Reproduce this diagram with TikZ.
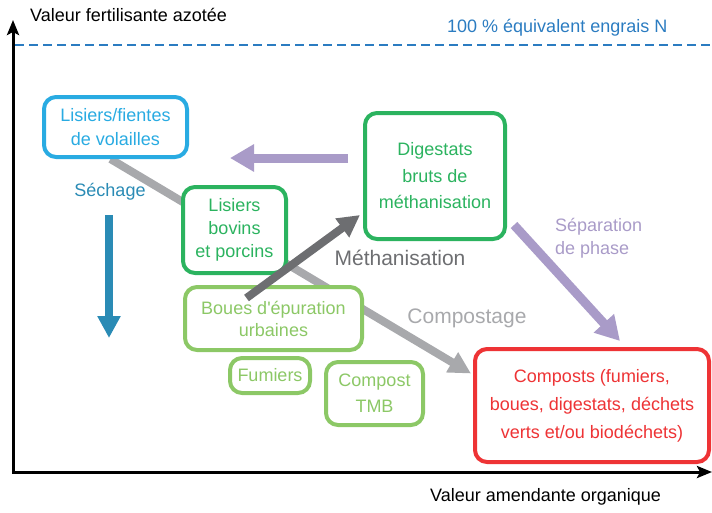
\documentclass[tikz,border=0pt]{standalone}
\usepackage{fontspec}
\setmainfont{Liberation Sans}
\usepackage{tikz}
\usetikzlibrary{arrows.meta,backgrounds}

\definecolor{cyanbox}{HTML}{29ABE2}
\definecolor{vertfonce}{HTML}{2BB35F}
\definecolor{vertclair}{HTML}{8CC866}
\definecolor{rougebox}{HTML}{EE3335}
\definecolor{mauve}{HTML}{A99BC8}
\definecolor{grisclair}{HTML}{A8A9AC}
\definecolor{grisfonce}{HTML}{6D6E71}
\definecolor{bleutiret}{HTML}{2B7CC1}
\definecolor{bleusechage}{HTML}{2A8BB5}

\begin{document}
\begin{tikzpicture}[
    x=1pt, y=-1pt,
    font=\fontsize{18}{23}\selectfont,
    box/.style     = {draw=#1, text=#1, line width=4pt, rounded corners=12pt,
                      fill=white, align=center, inner sep=2pt},
    lbl/.style     = {inner sep=0pt},
    etape/.style   = {lbl, font=\fontsize{21}{25}\selectfont},
    axe/.style     = {line width=3pt, line join=miter,
                      {Stealth[length=15pt,width=12pt,inset=3pt]}-{Stealth[length=15pt,width=12pt,inset=3pt]}},
    flux/.style    = {line width=9pt, -{Triangle[length=24pt,width=26pt]}},
    fluxfin/.style = {line width=8pt, -{Triangle[length=22pt,width=22pt]}},
]
\useasboundingbox (0,0) rectangle (712,512);

% ---------------- axes ----------------
\coordinate (origine) at (13,472);
\coordinate (ytop) at (13,20);
\coordinate (xend) at (712,472);
\draw[axe] (ytop) -- (origine) -- (xend);

\node[lbl, anchor=west] (yaxe) at (30,15) {Valeur fertilisante azotée};
\node[lbl, anchor=west] (xaxe) at (430,497) {Valeur amendante organique};

% 100 % line
\coordinate (tiretA) at (15,45);
\coordinate (tiretB) at (712,45);
\draw[bleutiret, line width=2.8pt, dash pattern=on 9pt off 5pt] (tiretA) -- (tiretB);
\node[lbl, anchor=west, text=bleutiret] (equiv) at (447,28) {100 \% équivalent engrais N};

% ---------------- products ----------------
\node[box=cyanbox, minimum width=143pt, minimum height=60pt,
      font=\fontsize{18}{24}\selectfont] (fientes) at (115.5,127)
    {Lisiers/fientes\\de volailles};
\node[box=vertfonce, minimum width=103pt, minimum height=86pt] (bovins) at (234.5,230)
    {Lisiers\\bovins\\et porcins};
\node[box=vertfonce, minimum width=140pt, minimum height=126pt,
      font=\fontsize{18}{26.5}\selectfont] (digestats) at (435,176)
    {Digestats\\bruts de\\méthanisation};
\node[box=vertclair, minimum width=177pt, minimum height=63pt,
      font=\fontsize{18}{22}\selectfont] (boues) at (273.5,318.5)
    {Boues d\textquotesingle épuration\\urbaines};
\node[box=vertclair, minimum width=80pt, minimum height=35pt] (fumiers) at (270,375.5)
    {Fumiers};
\node[box=vertclair, minimum width=97pt, minimum height=63pt,
      font=\fontsize{18}{26}\selectfont] (tmb) at (374.5,393.5)
    {Compost\\TMB};
\node[box=rougebox, minimum width=234pt, minimum height=113pt,
      font=\fontsize{18}{28}\selectfont] (composts) at (592,405.5)
    {Composts (fumiers,\\boues, digestats, déchets\\verts et/ou biodéchets)};

% ---------------- processes ----------------
\begin{scope}[on background layer]
    \draw[fluxfin, grisclair] ([xshift=-5pt]fientes.south) -- ([shift={(-2pt,32pt)}]composts.west);
\end{scope}
\node[etape, text=grisclair] (compostage) at (467,318) {Compostage};

\draw[fluxfin, grisfonce] ([shift={(-27pt,-13pt)}]boues.north) -- ([shift={(-3pt,26pt)}]digestats.south west);
\node[etape, text=grisfonce] (methanisation) at (400,258) {Méthanisation};

\coordinate (retour) at (230,158);
\draw[flux, mauve] ([shift={(-15pt,18pt)}]digestats.west) -- (retour);

\draw[flux, mauve] ([shift={(7pt,16pt)}]digestats.south east) -- ([shift={(28pt,6pt)}]composts.north);
\node[lbl, anchor=west, align=left, text=mauve] (separation) at (555,238)
    {Séparation\\de phase};

\node[lbl, text=bleusechage] (sechage) at (110,192) {Séchage};
\coordinate (secheA) at (109,215);
\coordinate (secheB) at (109,338);
\draw[bleusechage, line width=8pt, -{Triangle[length=22pt,width=22pt]}] (secheA) -- (secheB);

\end{tikzpicture}
\end{document}
